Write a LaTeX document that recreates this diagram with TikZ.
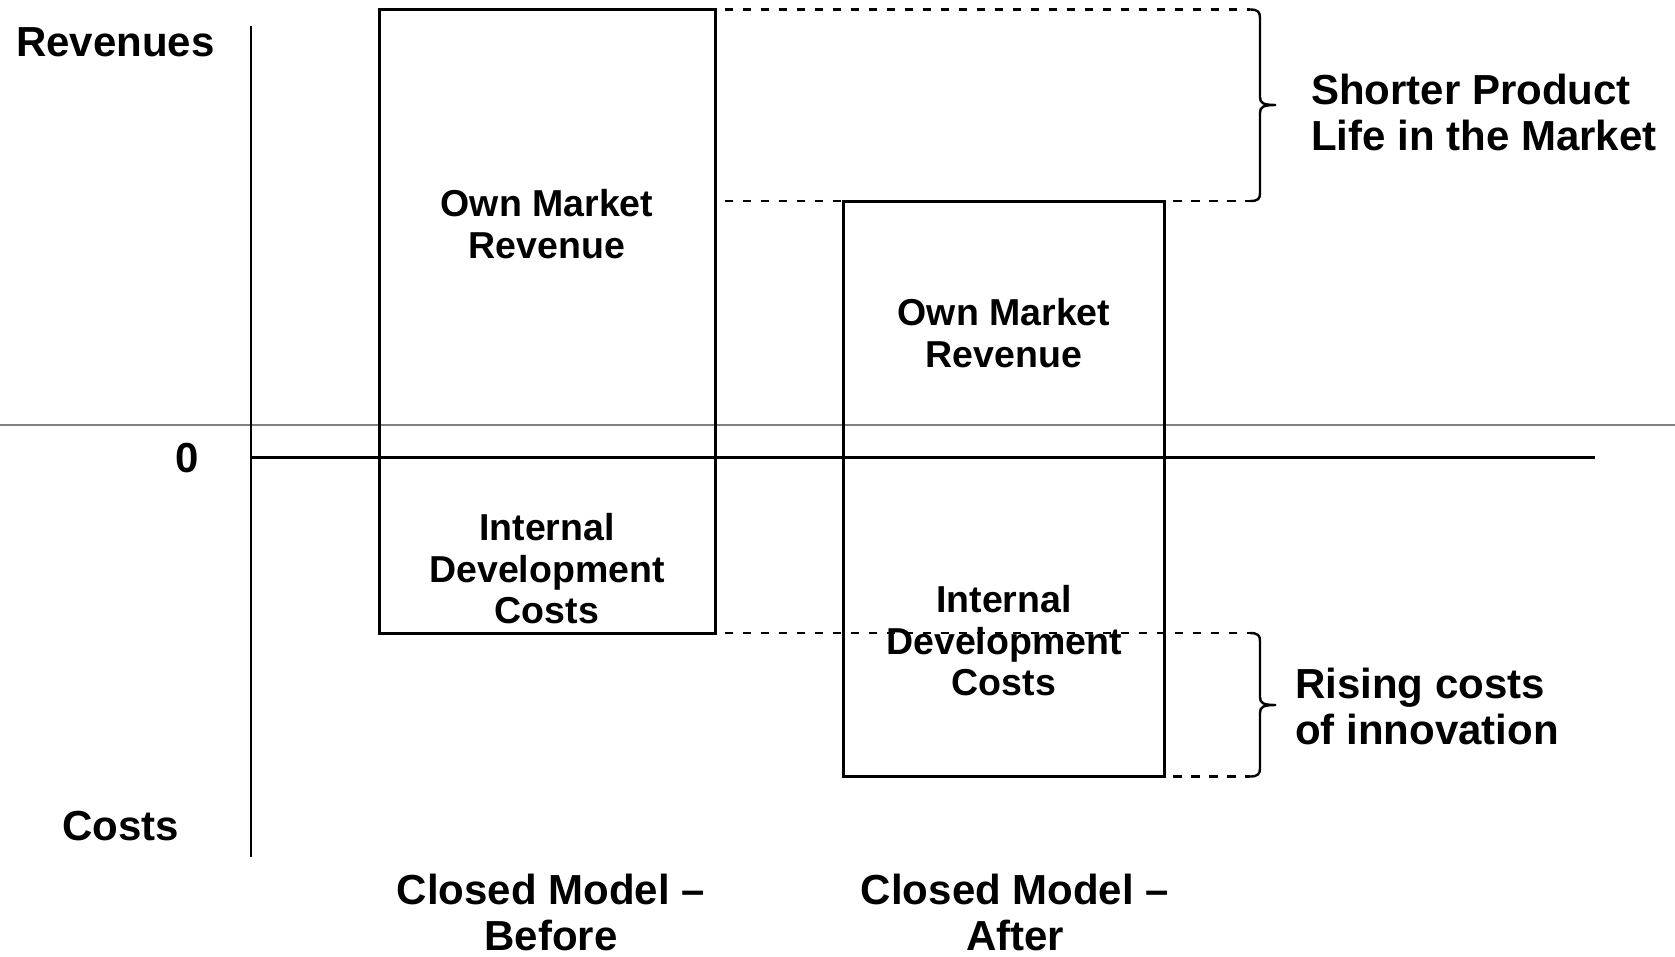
\documentclass[tikz,border=0pt]{standalone}
\usepackage{fontspec}
\setmainfont{Liberation Sans}
\begin{document}
\begin{tikzpicture}[x=1pt,y=-1pt,
  lbl/.style={font=\bfseries\fontsize{42}{46}\selectfont,align=left,inner sep=0pt},
  boxlbl/.style={font=\bfseries\fontsize{37.5}{41.5}\selectfont,align=center,inner sep=0pt},
  bar/.style={draw=black,line width=3pt},
  guide/.style={draw=black,line width=2.6pt,dash pattern=on 8.5pt off 9.5pt,dash phase=-9pt},
  brace/.style={draw=black,line width=2.4pt}]
\useasboundingbox (0,0) rectangle (1675,956);
% gray thin line
\draw[gray,line width=1.2pt] (0,425) -- (1675,425);
% coordinates
\coordinate (ytop) at (251,26);
\coordinate (ybot) at (251,857);
\coordinate (x0) at (251,457.5);
\coordinate (x1) at (1595,457.5);
\coordinate (b1tl) at (379,9.5);
\coordinate (b1br) at (715.5,633);
\coordinate (b2tl) at (843.5,201);
\coordinate (b2br) at (1164,776.5);
% boxes
\draw[bar] (b1tl) rectangle (b1br);
\draw[bar] (b2tl) rectangle (b2br);
% axes
\draw[line width=2.8pt] (ytop) -- (ybot);
\draw[line width=3.8pt] (x0) -- (x1);
% guides
\coordinate (g1) at (1250,9.5);
\coordinate (g2a) at (715.5,201);
\coordinate (g2b) at (843.5,201);
\coordinate (g2c) at (1164,201);
\coordinate (g2d) at (1250,201);
\coordinate (g3) at (1250,633);
\coordinate (g4a) at (1164,776.5);
\coordinate (g4) at (1250,776.5);
\draw[guide] (715.5,9.5) -- (g1);
\draw[guide] (g2a) -- (g2b);
\draw[guide] (g2c) -- (g2d);
\draw[guide] (b1br) -- (g3);
\draw[guide] (g4a) -- (g4);
% braces
\draw[brace] (g1) .. controls (1258,9.5) and (1260,12) .. (1260,18) -- (1260,97)
  .. controls (1260,103) and (1263,105) .. (1276,105)
  .. controls (1263,105) and (1260,107) .. (1260,113) -- (1260,193)
  .. controls (1260,199) and (1258,201) .. (g2d);
\draw[brace] (g3) .. controls (1258,633) and (1260,635.5) .. (1260,641) -- (1260,697)
  .. controls (1260,703) and (1263,705) .. (1276,705)
  .. controls (1263,705) and (1260,707) .. (1260,713) -- (1260,768)
  .. controls (1260,774) and (1258,776.5) .. (g4);
% axis labels
\node[lbl,anchor=west] (rev) at (16,42) {Revenues};
\node[lbl] (zero) at (187,458) {0};
\node[lbl] (costs) at (121,826) {Costs};
% box labels
\node[boxlbl] (omr1) at (547,224) {Own Market\\Revenue};
\node[boxlbl] (idc1) at (547,569) {Internal\\Development\\Costs};
\node[boxlbl] (omr2) at (1004,333) {Own Market\\Revenue};
\node[boxlbl] (idc2) at (1004,641) {Internal\\Development\\Costs};
% right labels
\node[lbl,anchor=west] (short) at (1311,112.5) {Shorter Product\\Life in the Market};
\node[lbl,anchor=west] (rise) at (1295,706.5) {Rising costs\\of innovation};
% bottom labels
\node[lbl,align=center] (before) at (551,912) {Closed Model –\\Before};
\node[lbl,align=center] (after) at (1015,912) {Closed Model –\\After};
\end{tikzpicture}
\end{document}
